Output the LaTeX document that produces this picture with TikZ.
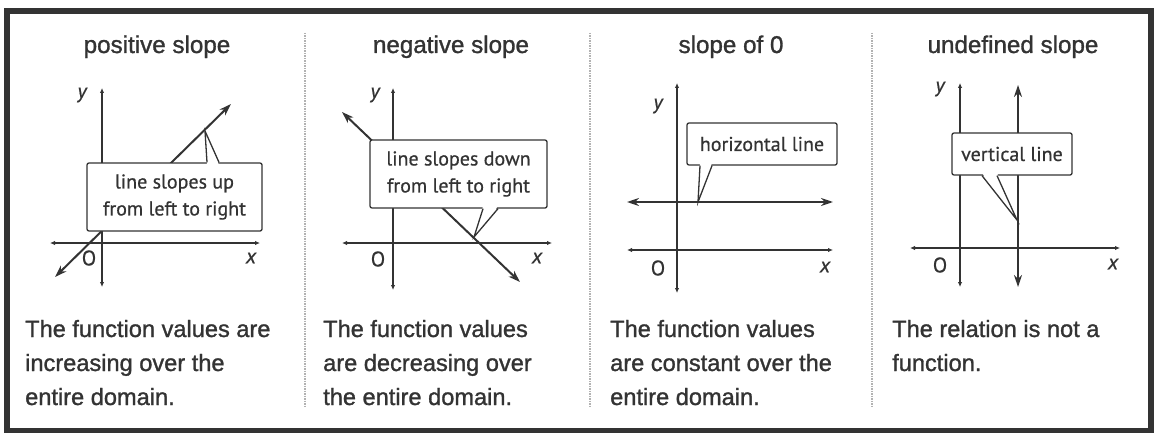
\documentclass[tikz,border=0pt]{standalone}
\usepackage{fontspec}
\setmainfont{Liberation Sans}[FakeBold=1.2]
\newfontfamily\calloutfont{PT Sans}[FakeBold=0.6]
\usetikzlibrary{arrows.meta}
\definecolor{ink}{gray}{0.2}

\tikzset{
  axis/.style={ink, line width=1.7pt, {Latex[length=5pt,width=4.5pt]}-{Latex[length=5pt,width=4.5pt]}},
  slopeline/.style={ink, line width=2pt, {Stealth[length=12pt,width=8pt]}-{Stealth[length=12pt,width=8pt]}},
  callout/.style={draw=ink, line width=1.3pt, fill=white, rounded corners=2pt, inner sep=0pt,
    font=\calloutfont\fontsize{20}{27}\selectfont, align=center, text=ink},
  title/.style={font=\fontsize{24.2}{29}\selectfont, text=ink, anchor=base},
  body/.style={font=\fontsize{23.6}{34}\selectfont, text=ink, align=left, anchor=base west, inner sep=0pt},
  lbl/.style={font=\calloutfont\fontsize{21}{21}\selectfont, text=ink, inner sep=0pt},
  divider/.style={gray!60, line width=1.5pt, densely dotted},
  pointer/.style={ink, line width=1.3pt}
}

\begin{document}
\begin{tikzpicture}[x=1pt,y=-1pt]
  \useasboundingbox (0,0) rectangle (1155,433);
  \draw[ink, line width=6pt] (6.5,11) rectangle (1151,431);
  \foreach \x in {305,590,872} {\draw[divider] (\x,33) -- (\x,407);}

  % titles
  \node[title] (title1) at (157,53) {positive slope};
  \node[title] (title2) at (451,53) {negative slope};
  \node[title] (title3) at (731,53) {slope of 0};
  \node[title] (title4) at (1013,53) {undefined slope};

  % positive slope
  \draw[axis] (102,88) -- (102,287);
  \draw[axis] (50,243) -- (260,243);
  \draw[slopeline] (55,277) -- (231,104);
  \node[lbl] (y1) at (82,95) {\itshape y};
  \node[lbl] (o1) at (89,258) {O};
  \node[lbl] (x1) at (251,258) {\itshape x};
  \node[callout, minimum width=175pt, minimum height=68pt] (box1) at (174.5,197) {line slopes up\\from left to right};
  \coordinate (tip1) at (205,131);
  \fill[white] (207,165) -- (tip1) -- (219,165) -- cycle;
  \draw[pointer] (box1.north -| 207,0) -- (tip1) -- (box1.north -| 219,0);

  % negative slope
  \draw[axis] (393,88) -- (393,290);
  \draw[axis] (342,243) -- (552,243);
  \draw[slopeline] (342,112) -- (520,282);
  \node[lbl] (y2) at (375,95) {\itshape y};
  \node[lbl] (o2) at (378,259) {O};
  \node[lbl] (x2) at (537,258) {\itshape x};
  \node[callout, minimum width=177pt, minimum height=68pt] (box2) at (458.5,174) {line slopes down\\from left to right};
  \coordinate (tip2) at (474,237);
  \fill[white] (483,206) -- (tip2) -- (498,206) -- cycle;
  \draw[pointer] (box2.south -| 483,0) -- (tip2) -- (box2.south -| 498,0);

  % slope of 0
  \draw[axis] (677,83) -- (677,293);
  \draw[axis] (627,250) -- (833,250);
  \draw[slopeline] (627,202) -- (833,202);
  \node[lbl] (y3) at (658,106) {\itshape y};
  \node[lbl] (o3) at (658,268) {O};
  \node[lbl] (x3) at (825,267) {\itshape x};
  \node[callout, minimum width=150pt, minimum height=42pt] (box3) at (762,144) {horizontal line};
  \coordinate (tip3) at (698,202);
  \fill[white] (700,163) -- (tip3) -- (712,163) -- cycle;
  \draw[pointer] (box3.south -| 700,0) -- (tip3) -- (box3.south -| 712,0);

  % undefined slope
  \draw[axis] (960,83) -- (960,287);
  \draw[axis] (910,248) -- (1120,248);
  \draw[slopeline] (1018,85) -- (1018,287);
  \node[lbl] (y4) at (940,89) {\itshape y};
  \node[lbl] (o4) at (940,265) {O};
  \node[lbl] (x4) at (1113,264) {\itshape x};
  \node[callout, minimum width=120pt, minimum height=42pt] (box4) at (1012,154) {vertical line};
  \coordinate (tip4) at (1017,220);
  \fill[white] (982,173) -- (tip4) -- (997,173) -- cycle;
  \draw[pointer] (box4.south -| 982,0) -- (tip4) -- (box4.south -| 997,0);

  % captions (anchored at the last line)
  \node[body] (text1) at (25,405) {The function values are\\increasing over the\\entire domain.};
  \node[body] (text2) at (323,405) {The function values\\are decreasing over\\the entire domain.};
  \node[body] (text3) at (610,405) {The function values\\are constant over the\\entire domain.};
  \node[body] (text4) at (892,371) {The relation is not a\\function.};
\end{tikzpicture}
\end{document}
